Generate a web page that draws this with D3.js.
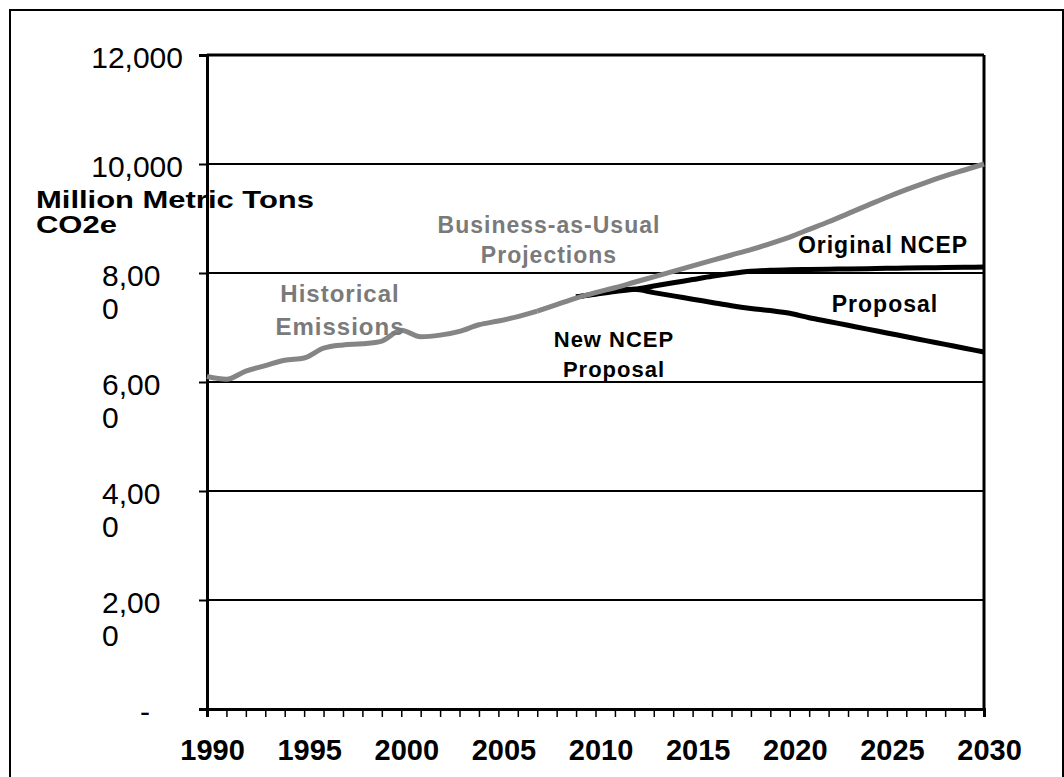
<!DOCTYPE html>
<html lang="en">
	<head>
		<meta charset="utf-8">
		<title>Million Metric Tons CO2e</title>
		<script type="text/javascript" src="https://cdn.jsdelivr.net/npm/d3@7"></script>
		<style type="text/css">
			body {
				margin: 0;
				background: #fff;
			}
			text {
				font-family: "Liberation Sans", Arial, sans-serif;
			}
		</style>
	</head>
	<body>
		<script type="text/javascript">

			//Width and height
			var w = 1064;
			var h = 777;

			//Historical emissions
			var histYears = [1990, 1991, 1992, 1993, 1994, 1995, 1996, 1997, 1998, 1999,
							 2000, 2001, 2002, 2003, 2004, 2005, 2006, 2007];
			var histValues = [6100, 6050, 6200, 6300, 6400, 6440, 6620, 6680, 6700, 6750,
							  6950, 6830, 6860, 6930, 7050, 7120, 7200, 7300];

			//Business-as-usual projections
			var bauYears = [2007, 2008, 2009, 2010, 2011, 2012, 2013, 2014, 2015, 2016, 2017, 2018,
							2019, 2020, 2021, 2022, 2023, 2024, 2025, 2026, 2027, 2028, 2029, 2030];
			var bauValues = [7300, 7420, 7540, 7640, 7730, 7830, 7930, 8030, 8130, 8230, 8330, 8430,
							 8540, 8660, 8800, 8940, 9090, 9240, 9390, 9530, 9660, 9780, 9890, 10000];

			//NCEP proposals
			var ncepYears = [2009, 2010, 2011, 2012, 2013, 2014, 2015, 2016, 2017, 2018, 2019,
							 2020, 2021, 2022, 2023, 2024, 2025, 2026, 2027, 2028, 2029, 2030];
			var originalNcep = [7560, 7610, 7660, 7700, 7760, 7820, 7880, 7940, 7990, 8030, 8050,
								8060, 8065, 8070, 8075, 8080, 8085, 8090, 8095, 8100, 8105, 8110];
			var newNcep = [7560, 7620, 7680, 7700, 7640, 7580, 7520, 7460, 7400, 7350, 7310,
						   7260, 7180, 7110, 7040, 6970, 6900, 6830, 6760, 6690, 6620, 6550];

			//Axis ticks and labels
			var yTicks = [0, 2000, 4000, 6000, 8000, 10000, 12000];
			var yTickLabels = [["-"], ["2,00", "0"], ["4,00", "0"], ["6,00", "0"], ["8,00", "0"], ["10,000"], ["12,000"]];
			var xYears = d3.range(1990, 2031);

			var xScale = d3.scaleLinear()
							.domain([1990, 2030])
							.range([207, 984]);

			var yScale = d3.scaleLinear()
							.domain([0, 12000])
							.range([709, 55]);

			//Create SVG element
			var svg = d3.select("body")
						.append("svg")
						.attr("width", w)
						.attr("height", h);

			//Outer frame
			svg.append("rect")
			   .attr("x", 10)
			   .attr("y", 10)
			   .attr("width", 1053)
			   .attr("height", 800)
			   .attr("fill", "none")
			   .attr("stroke", "#000")
			   .attr("stroke-width", 2);

			//Gridlines
			svg.selectAll("line.grid")
			   .data(yTicks.slice(1))
			   .enter()
			   .append("line")
			   .attr("class", "grid")
			   .attr("x1", xScale(1990))
			   .attr("x2", xScale(2030))
			   .attr("y1", function(d) { return yScale(d); })
			   .attr("y2", function(d) { return yScale(d); })
			   .attr("stroke", "#000")
			   .attr("stroke-width", function(d) { return d == 12000 ? 3 : 2; });

			//Right border of plot
			svg.append("line")
			   .attr("x1", xScale(2030))
			   .attr("x2", xScale(2030))
			   .attr("y1", yScale(12000))
			   .attr("y2", yScale(0))
			   .attr("stroke", "#000")
			   .attr("stroke-width", 3);

			//Y axis
			var yAxis = d3.axisLeft(yScale)
						  .tickValues(yTicks)
						  .tickSize(8)
						  .tickFormat("");

			svg.append("g")
			   .attr("transform", "translate(" + xScale(1990) + ",0)")
			   .call(yAxis)
			   .call(function(g) {
			   		g.select(".domain").attr("stroke-width", 3);
			   		g.selectAll(".tick line").attr("stroke-width", 2);
			   });

			//Y tick labels
			var yLabels = svg.selectAll("text.ylab")
							 .data(yTicks)
							 .enter()
							 .append("text")
							 .attr("class", "ylab")
							 .attr("font-size", "30px")
							 .attr("fill", "#000")
							 .attr("text-anchor", function(d, i) {
							 	var lab = yTickLabels[i];
							 	if (lab[0] == "-") return "middle";
							 	return lab.length > 1 ? "start" : "end";
							 })
							 .attr("x", function(d, i) {
							 	var lab = yTickLabels[i];
							 	if (lab[0] == "-") return 145;
							 	return lab.length > 1 ? 102 : 183;
							 })
							 .attr("y", function(d) { return yScale(d) + 13; });

			yLabels.selectAll("tspan")
				   .data(function(d, i) { return yTickLabels[i]; })
				   .enter()
				   .append("tspan")
				   .attr("x", function() { return this.parentNode.getAttribute("x"); })
				   .attr("dy", function(d, i) { return i == 0 ? 0 : 33; })
				   .text(function(d) { return d; });

			//X axis
			var xAxis = d3.axisBottom(xScale)
						  .tickValues(xYears)
						  .tickSize(8)
						  .tickFormat(function(d) { return d % 5 == 0 ? d : ""; });

			svg.append("g")
			   .attr("transform", "translate(0," + yScale(0) + ")")
			   .call(xAxis)
			   .call(function(g) {
			   		g.select(".domain").attr("stroke-width", 3);
			   		g.selectAll(".tick line").attr("stroke-width", 1.5);
			   		g.selectAll(".tick text")
			   		 .attr("y", 51)
			   		 .attr("dy", 0)
			   		 .attr("dx", 5)
			   		 .attr("fill", "#000")
			   		 .attr("font-size", "29px")
			   		 .attr("font-weight", "bold")
			   		 .attr("font-family", "'Liberation Sans', Arial, sans-serif");
			   });

			//Lines
			var line = d3.line()
						 .x(function(d) { return xScale(d[0]); })
						 .y(function(d) { return yScale(d[1]); })
						 .curve(d3.curveMonotoneX);

			var series = [
				{ values: d3.zip(ncepYears, originalNcep), color: "#000", width: 5 },
				{ values: d3.zip(ncepYears, newNcep), color: "#000", width: 5 },
				{ values: d3.zip(histYears, histValues), color: "#858585", width: 5 },
				{ values: d3.zip(bauYears, bauValues), color: "#858585", width: 5 }
			];

			svg.selectAll("path.series")
			   .data(series)
			   .enter()
			   .append("path")
			   .attr("class", "series")
			   .attr("d", function(d) { return line(d.values); })
			   .attr("fill", "none")
			   .attr("stroke", function(d) { return d.color; })
			   .attr("stroke-width", function(d) { return d.width; })
			   .attr("stroke-linejoin", "round")
			   .attr("stroke-linecap", "butt");

			//Series labels
			var notes = [
				{ lines: ["Historical", "Emissions"], x: 340, y: 302, color: "#7a7a7a", size: 24, gap: 33 },
				{ lines: ["Business-as-Usual", "Projections"], x: 549, y: 233, color: "#7a7a7a", size: 23, gap: 30 },
				{ lines: ["New NCEP", "Proposal"], x: 614, y: 347, color: "#000", size: 22, gap: 30 },
				{ lines: ["Original NCEP"], x: 883, y: 253, color: "#000", size: 23, gap: 0 },
				{ lines: ["Proposal"], x: 885, y: 312, color: "#000", size: 23, gap: 0 }
			];

			var noteText = svg.selectAll("text.note")
							  .data(notes)
							  .enter()
							  .append("text")
							  .attr("class", "note")
							  .attr("x", function(d) { return d.x; })
							  .attr("y", function(d) { return d.y; })
							  .attr("text-anchor", "middle")
							  .attr("font-weight", "bold")
							  .attr("letter-spacing", "1px")
							  .attr("font-size", function(d) { return d.size + "px"; })
							  .attr("fill", function(d) { return d.color; });

			noteText.selectAll("tspan")
					.data(function(d) { return d.lines.map(function(l) { return { t: l, p: d }; }); })
					.enter()
					.append("tspan")
					.attr("x", function(d) { return d.p.x; })
					.attr("dy", function(d, i) { return i == 0 ? 0 : d.p.gap; })
					.text(function(d) { return d.t; });

			//Axis title (stretched wide, as in the original)
			var title = svg.append("text")
						   .attr("transform", "translate(36,0) scale(1.29,1)")
						   .attr("font-size", "24px")
						   .attr("font-weight", "bold")
						   .attr("fill", "#000");

			title.append("tspan").attr("x", 0).attr("y", 208).text("Million Metric Tons");
			title.append("tspan").attr("x", 0).attr("y", 233).text("CO2e");

		</script>
	</body>
</html>
